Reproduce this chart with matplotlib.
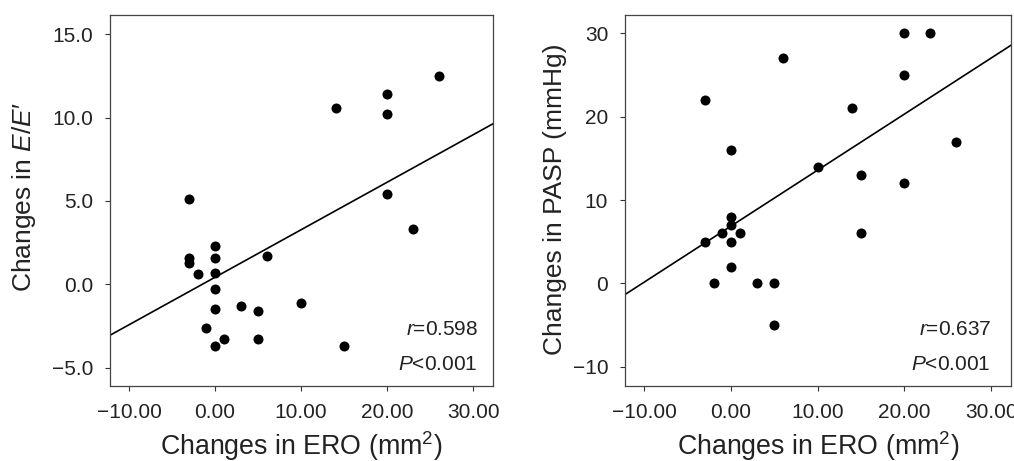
import numpy as np
import matplotlib.pyplot as plt
from matplotlib.ticker import FuncFormatter

plt.rcParams["font.family"] = ["Liberation Sans", "DejaVu Sans"]
plt.rcParams["mathtext.fontset"] = "custom"
plt.rcParams["mathtext.rm"] = "Liberation Sans"
plt.rcParams["mathtext.it"] = "Liberation Sans:italic"

# -------------------------------------------------
# Data
# -------------------------------------------------
ero_ee = [26, 20, 14, 20, -3, 20, 23, 0, -3, -3, 0, 6,
          -2, 0, 0, 0, 3, 5, 10, -1, 1, 0, 5, 15]
ee_change = [12.5, 11.4, 10.6, 10.2, 5.1, 5.4, 3.3, 2.3, 1.6, 1.3, 1.6, 1.7,
             0.6, 0.7, -0.3, -1.5, -1.3, -1.6, -1.1, -2.6, -3.3, -3.7, -3.3, -3.7]

ero_pasp = [20, 23, 6, 20, -3, 14, 26, 0, 10, 15, 20, 0,
            0, -1, 1, -3, 0, 15, 0, -2, 3, 5, 5]
pasp_change = [30, 30, 27, 25, 22, 21, 17, 16, 14, 13, 12, 8,
               7, 6, 6, 5, 5, 6, 2, 0, 0, 0, -5]

# regression lines (slope, intercept) as drawn
fit_ee = (0.285, 0.42)
fit_pasp = (0.672, 6.87)

stats_ee = ("0.598", "0.001")
stats_pasp = ("0.637", "0.001")

xticks = [-10, 0, 10, 20, 30]
yticks_ee = [-5, 0, 5, 10, 15]
yticks_pasp = [-10, 0, 10, 20, 30]

TXT = "#222222"


def fmt(spec):
    return FuncFormatter(lambda v, pos: format(v, spec).replace("-", "\u2212"))


# -------------------------------------------------
# Figure
# -------------------------------------------------
fig = plt.figure(figsize=(10.14, 4.61), dpi=100)
ax1 = fig.add_axes([0.1085, 0.1627, 0.3777, 0.8048])
ax2 = fig.add_axes([0.6164, 0.1627, 0.3807, 0.8048])


def panel(ax, x, y, fit, stats, yticks, ylim, yspec, ylabel, ylab_xy, txt_x):
    ax.scatter(x, y, s=52, color="black", zorder=3, linewidths=0)
    ax.axline((0, fit[1]), slope=fit[0], color="black", lw=1.2)
    ax.set_xlim(-12.2, 32.3)
    ax.set_ylim(*ylim)
    ax.set_xticks(xticks)
    ax.set_yticks(yticks)
    ax.xaxis.set_major_formatter(fmt(".2f"))
    ax.yaxis.set_major_formatter(fmt(yspec))
    ax.tick_params(direction="out", length=3.8, width=0.8, labelsize=15,
                   color="#333333", labelcolor=TXT)
    ax.tick_params(axis="x", pad=8.5)
    ax.tick_params(axis="y", pad=8.3)
    for sp in ax.spines.values():
        sp.set_linewidth(0.9)
        sp.set_color("#444444")

    ax.set_xlabel("Changes in ERO (mm$^2$)", fontsize=19.3, color=TXT)
    ax.xaxis.set_label_coords(0.5, -0.163)
    ax.xaxis.label.set_va("center")
    ax.set_ylabel(ylabel, fontsize=19, color=TXT)
    ax.yaxis.set_label_coords(*ylab_xy)
    ax.yaxis.label.set_va("center")

    ax.text(txt_x, 0.151, "$r$=" + stats[0], transform=ax.transAxes,
            ha="right", va="center", fontsize=15, color=TXT)
    ax.text(txt_x - 0.003, 0.059, "$P$<" + stats[1], transform=ax.transAxes,
            ha="right", va="center", fontsize=15, color=TXT)


panel(ax1, ero_ee, ee_change, fit_ee, stats_ee, yticks_ee, (-6.1, 16.15),
      ".1f", "Changes in $E/E$\u2032", (-0.2245, 0.51), 0.962)
panel(ax2, ero_pasp, pasp_change, fit_pasp, stats_pasp, yticks_pasp,
      (-12.3, 32.2), ".0f", "Changes in PASP (mmHg)", (-0.181, 0.503), 0.950)

fig.savefig("out.png", dpi=100)
